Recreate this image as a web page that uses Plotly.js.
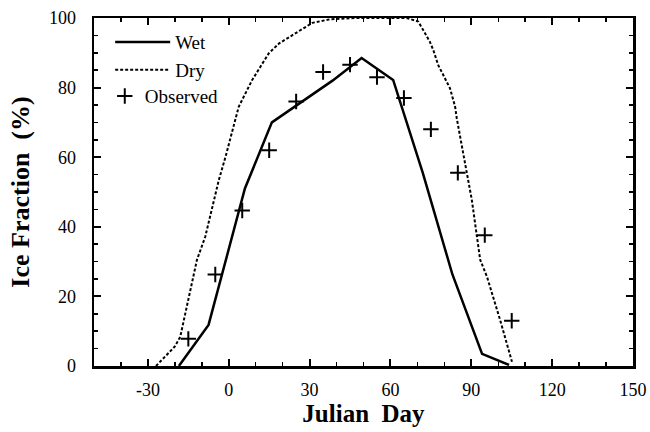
<!DOCTYPE html>
<html>
<head>
<meta charset="utf-8">
<script src="https://cdn.plot.ly/plotly-3.0.1.min.js"></script>
<style>html,body{margin:0;padding:0;background:#fff;}</style>
</head>
<body>
<div id="chart" style="width:650px;height:432px;"></div>
<script>
// Wet model curve
var wetX = [-18.5, -7.5, 6, 16, 38.5, 49.3, 61, 72, 83, 94, 104];
var wetY = [0, 11.8, 51, 70, 82, 88.5, 82.2, 55.5, 26.3, 3.5, 0.3];
// Dry model curve
var dryX = [-27, -20, -18, -14.3, -11.8, -8.7, -3.7, -1.2, 3.7, 8.7, 14.9, 18.7, 24.9, 31, 37.3, 47, 66, 70.3, 72.1, 74.6, 75.9, 77.7, 80.2, 82.1, 84, 84.6, 87.5, 90.2, 93.3, 95.8, 100.7, 105.1];
var dryY = [0, 5.6, 8.4, 21.8, 30.5, 37.2, 53.4, 60.1, 74.5, 82.2, 89.9, 92.7, 95.6, 98.6, 99.6, 100, 100, 99, 96.6, 93.2, 90.8, 86.5, 82.7, 79.8, 74.5, 71.2, 59, 47.7, 30.5, 25.7, 13.2, 1.2];
// Observed
var obsX = [-15, -5, 5, 15, 25, 35, 45, 55, 65, 75, 85, 95, 105];
var obsY = [7.8, 26.3, 44.7, 62, 76, 84.5, 86.6, 83, 77, 68, 55.5, 37.6, 13.0];

// Tick labels
var xTickVals = [-30, 0, 30, 60, 90, 120, 150];
var xTickText = ['-30', '0', '30', '60', '90', '120', '150'];
var yTickVals = [0, 20, 40, 60, 80, 100];
var yTickText = ['0', '20', '40', '60', '80', '100'];

var serif = "Liberation Serif, Times New Roman, serif";

var traces = [
  {x: wetX, y: wetY, mode: 'lines', name: 'Wet', legend: 'legend', line: {color: '#000', width: 2.5}},
  {x: dryX, y: dryY, mode: 'lines', name: 'Dry', legend: 'legend', line: {color: '#000', width: 2, dash: '3px,2px'}},
  {x: obsX, y: obsY, mode: 'markers', name: 'Observed', legend: 'legend2',
   marker: {symbol: 'cross-thin', size: 11, color: '#000', line: {color: '#000', width: 2}}}
];

var layout = {
  width: 650, height: 432,
  margin: {l: 94, r: 17, t: 18, b: 66},
  paper_bgcolor: '#fff', plot_bgcolor: '#fff',
  showlegend: true,
  legend: {x: 0.03, y: 0.985, xanchor: 'left', yanchor: 'top', bgcolor: 'rgba(0,0,0,0)',
           itemwidth: 55,
           font: {family: serif, size: 19, color: '#000'}},
  legend2: {x: 0.02, y: 0.83, xanchor: 'left', yanchor: 'top', bgcolor: 'rgba(0,0,0,0)',
           itemwidth: 30,
           font: {family: serif, size: 19, color: '#000'}},
  xaxis: {
    range: [-50, 150], tickmode: 'array', tickvals: xTickVals, ticktext: xTickText,
    ticks: 'inside', ticklen: 7, tickwidth: 2, tickcolor: '#000',
    showline: true, linewidth: 2.5, linecolor: '#000', mirror: 'ticks',
    showgrid: false, zeroline: false,
    minor: {dtick: 10, tick0: 0, ticks: 'inside', ticklen: 4, tickwidth: 1.5, tickcolor: '#000', showgrid: false},
    tickfont: {family: serif, size: 18, color: '#000'},
    ticklabelstandoff: 6,
    title: {text: 'Julian\u00a0 Day', font: {family: serif, size: 25, color: '#000', weight: 'bold'}, standoff: 2}
  },
  yaxis: {
    range: [0, 100], tickmode: 'array', tickvals: yTickVals, ticktext: yTickText,
    ticks: 'inside', ticklen: 7, tickwidth: 2, tickcolor: '#000',
    showline: true, linewidth: 2.5, linecolor: '#000', mirror: 'ticks',
    showgrid: false, zeroline: false,
    minor: {dtick: 5, tick0: 0, ticks: 'inside', ticklen: 4, tickwidth: 1.5, tickcolor: '#000', showgrid: false},
    tickfont: {family: serif, size: 18, color: '#000'},
    ticklabelstandoff: 12,
    title: {text: 'Ice Fraction\u00a0 (%)', font: {family: serif, size: 26, color: '#000', weight: 'bold'}, standoff: 12}
  }
};

Plotly.newPlot('chart', traces, layout, {displayModeBar: false, staticPlot: true});
</script>
</body>
</html>
